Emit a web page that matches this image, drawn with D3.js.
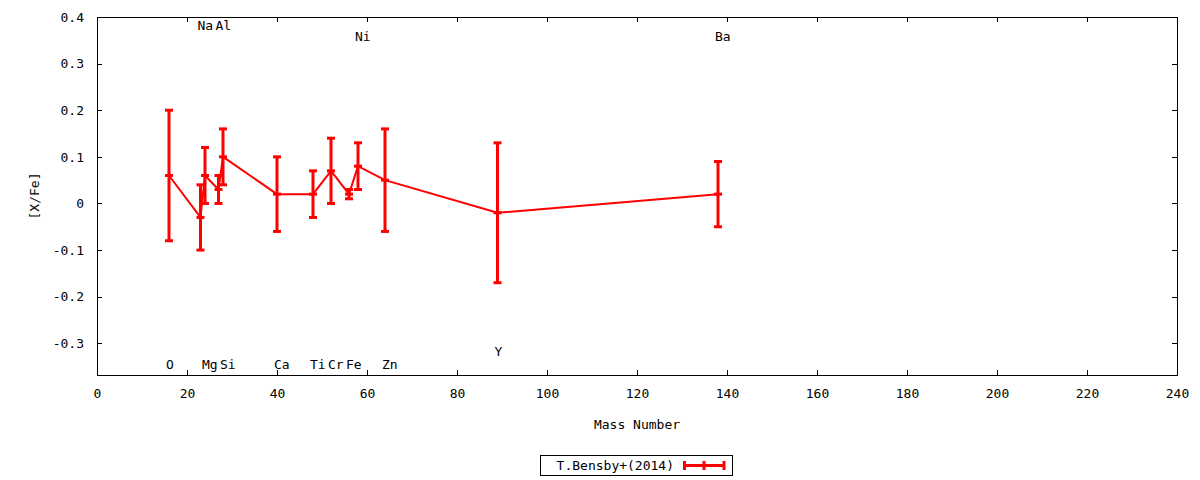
<!DOCTYPE html>
<html>
<head>
<meta charset="utf-8">
<script src="https://cdn.jsdelivr.net/npm/d3@7"></script>
<style>
  html, body { margin: 0; padding: 0; background: #fff; }
  svg { display: block; font-family: "DejaVu Sans Mono", monospace; }
</style>
</head>
<body>
<svg id="chart" width="1200" height="480"></svg>
<script>
// element labels and their mass numbers
const elements = ['O', 'Na', 'Mg', 'Al', 'Si', 'Ca', 'Ti', 'Cr', 'Fe', 'Ni', 'Zn', 'Y', 'Ba'];
const massNumbers = [16, 23, 24, 27, 28, 40, 48, 52, 56, 58, 64, 89, 138];
// [X/Fe] and its error bar
const xfe = [0.06, -0.03, 0.06, 0.03, 0.10, 0.02, 0.02, 0.07, 0.02, 0.08, 0.05, -0.02, 0.02];
const xfeLow = [-0.08, -0.10, 0.00, 0.00, 0.04, -0.06, -0.03, 0.00, 0.01, 0.03, -0.06, -0.17, -0.05];
const xfeHigh = [0.20, 0.04, 0.12, 0.06, 0.16, 0.10, 0.07, 0.14, 0.03, 0.13, 0.16, 0.13, 0.09];
// height (in [X/Fe]) where each element name sits
const labelY = [-0.349, 0.378, -0.349, 0.378, -0.349, -0.349, -0.349, -0.349, -0.349, 0.356, -0.349, -0.32, 0.356];

const xTicks = [0, 20, 40, 60, 80, 100, 120, 140, 160, 180, 200, 220, 240];
const yTicks = [-0.3, -0.2, -0.1, 0, 0.1, 0.2, 0.3, 0.4];
const seriesName = 'T.Bensby+(2014)';

const data = elements.map((el, i) => ({
  el, mass: massNumbers[i], v: xfe[i], lo: xfeLow[i], hi: xfeHigh[i], ly: labelY[i]
}));

const svg = d3.select('#chart');
const plotL = 97, plotR = 1177, plotT = 17, plotB = 375;
const red = '#ff0000';
const fontSize = 13;

const x = d3.scaleLinear().domain([0, 240]).range([plotL, plotR]);
const y = d3.scaleLinear().domain([-0.368, 0.4]).range([plotB, plotT]);

const fmt = d => String(+d.toFixed(1));

// axes, gnuplot style: ticks inward on all four sides
const gx = svg.append('g').attr('transform', `translate(0,${plotB})`)
  .call(d3.axisBottom(x).tickValues(xTicks).tickSize(-5).tickPadding(14));
const gxTop = svg.append('g').attr('transform', `translate(0,${plotT})`)
  .call(d3.axisTop(x).tickValues(xTicks).tickSize(-5).tickFormat(''));
const gy = svg.append('g').attr('transform', `translate(${plotL},0)`)
  .call(d3.axisLeft(y).tickValues(yTicks).tickSize(-5).tickPadding(13).tickFormat(fmt));
const gyRight = svg.append('g').attr('transform', `translate(${plotR},0)`)
  .call(d3.axisRight(y).tickValues(yTicks).tickSize(-5).tickFormat(''));

[gx, gxTop, gy, gyRight].forEach(g => {
  g.select('.domain').remove();
  g.selectAll('line').attr('stroke', '#000').attr('stroke-width', 1).attr('shape-rendering', 'crispEdges');
  g.selectAll('text').attr('fill', '#000').style('font-size', fontSize + 'px').style('font-family', '"DejaVu Sans Mono", monospace');
});
// hide tick marks sitting on the corners
gx.selectAll('.tick').filter(d => d === 0 || d === 240).select('line').remove();
gxTop.selectAll('.tick').filter(d => d === 0 || d === 240).remove();
gy.selectAll('.tick').filter(d => d === 0.4).select('line').remove();
gyRight.selectAll('.tick').filter(d => d === 0.4).remove();

svg.append('rect')
  .attr('x', plotL + 0.5).attr('y', plotT + 0.5)
  .attr('width', plotR - plotL).attr('height', plotB - plotT)
  .attr('fill', 'none').attr('stroke', '#000').attr('stroke-width', 1);

// axis titles
svg.append('text')
  .attr('x', (plotL + plotR) / 2).attr('y', 424)
  .attr('text-anchor', 'middle').attr('dominant-baseline', 'central')
  .style('font-size', fontSize + 'px').text('Mass Number');
svg.append('text')
  .attr('transform', `translate(34,${(plotT + plotB) / 2}) rotate(-90)`)
  .attr('text-anchor', 'middle').attr('dominant-baseline', 'central')
  .style('font-size', fontSize + 'px').text('[X/Fe]');

// element names
svg.append('g').selectAll('text').data(data).enter().append('text')
  .attr('x', d => x(d.mass) - 3)
  .attr('y', d => y(d.ly) - 1.5)
  .attr('dominant-baseline', 'central')
  .style('font-size', fontSize + 'px')
  .text(d => d.el);

// connecting line
const line = d3.line().x(d => x(d.mass)).y(d => y(d.v));
svg.append('path').datum(data)
  .attr('d', line)
  .attr('fill', 'none').attr('stroke', red).attr('stroke-width', 2);

// error bars
const capW = 8;
const bars = svg.append('g').selectAll('g').data(data).enter().append('g');
bars.append('line')
  .attr('x1', d => x(d.mass)).attr('x2', d => x(d.mass))
  .attr('y1', d => y(d.lo)).attr('y2', d => y(d.hi))
  .attr('stroke', red).attr('stroke-width', 3);
['lo', 'v', 'hi'].forEach(k => {
  bars.append('line')
    .attr('x1', d => x(d.mass) - capW / 2).attr('x2', d => x(d.mass) + capW / 2)
    .attr('y1', d => y(d[k])).attr('y2', d => y(d[k]))
    .attr('stroke', red).attr('stroke-width', 3);
});

// legend
const legend = svg.append('g');
legend.append('rect')
  .attr('x', 540.5).attr('y', 455.5).attr('width', 192).attr('height', 20)
  .attr('fill', '#fff').attr('stroke', '#000').attr('stroke-width', 1);
legend.append('text')
  .attr('x', 674).attr('y', 465)
  .attr('text-anchor', 'end').attr('dominant-baseline', 'central')
  .style('font-size', fontSize + 'px').text(seriesName);
legend.append('line')
  .attr('x1', 683).attr('x2', 725).attr('y1', 465.5).attr('y2', 465.5)
  .attr('stroke', red).attr('stroke-width', 3);
[684.5, 704, 724].forEach(cx => {
  legend.append('line')
    .attr('x1', cx).attr('x2', cx).attr('y1', 461).attr('y2', 470)
    .attr('stroke', red).attr('stroke-width', 3);
});
</script>
</body>
</html>
